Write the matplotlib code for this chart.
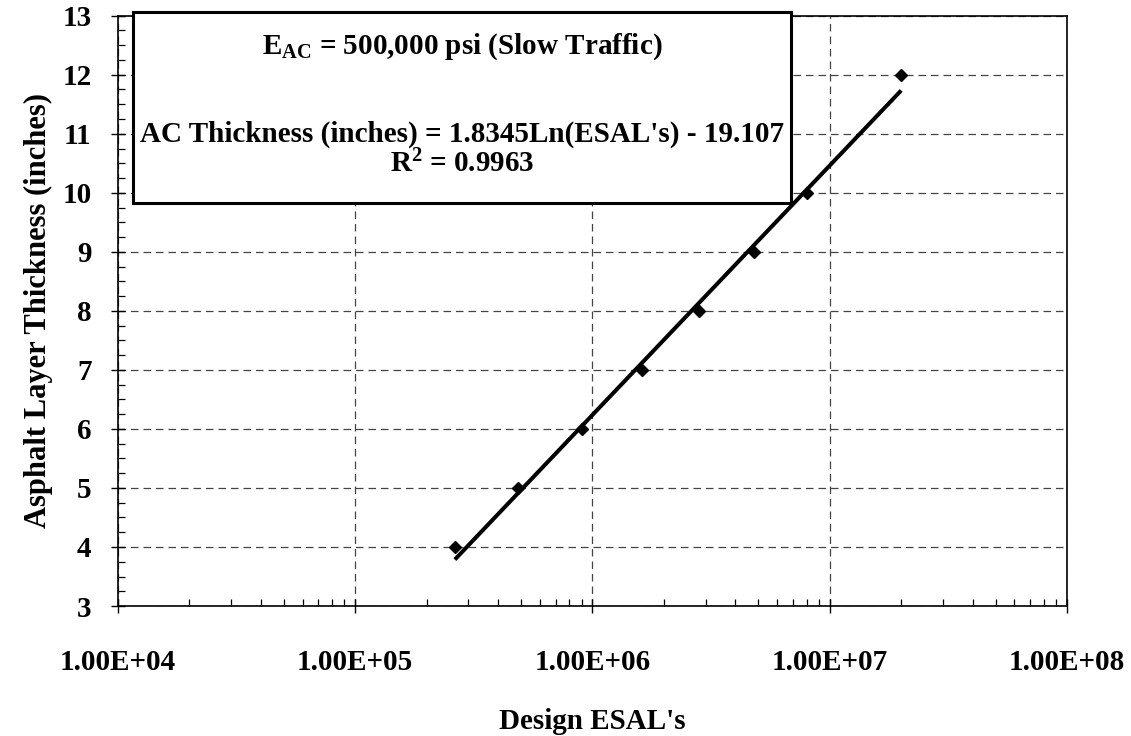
import numpy as np
import matplotlib.pyplot as plt
from matplotlib.ticker import LogLocator, FuncFormatter, MultipleLocator, NullFormatter
from matplotlib.patches import Rectangle

# Data
esals = [2.63e5, 4.87e5, 9.06e5, 1.62e6, 2.82e6, 4.8e6, 8.0e6, 2.0e7]
thickness = [4, 5, 6, 7, 8, 9, 10, 12]

# Logarithmic trend line reported on the chart
coef_a = 1.8345
coef_b = -19.107
r_squared = 0.9963

plt.rcParams['font.family'] = ['Liberation Serif', 'DejaVu Serif']
plt.rcParams['font.weight'] = 'bold'
plt.rcParams['mathtext.default'] = 'regular'

fig = plt.figure(figsize=(11.31, 7.36), dpi=100)
ax = fig.add_axes([0.1043, 0.1766, 0.8391, 0.8021])

ax.set_xscale('log')
ax.set_xlim(1e4, 1e8)
ax.set_ylim(3, 13)

# grid behind everything
ax.grid(True, which='major', linestyle=(0, (6, 4)), color='#444444', linewidth=0.9)
ax.set_axisbelow(True)

# trend line over the data range
fit_x = np.logspace(np.log10(min(esals)), np.log10(max(esals)), 100)
fit_y = coef_a * np.log(fit_x) + coef_b
ax.plot(fit_x, fit_y, color='black', linewidth=2.9, solid_capstyle='butt', zorder=3)

ax.plot(esals, thickness, linestyle='none', marker='D', markersize=6.5,
        color='black', zorder=4)

# ticks
ax.xaxis.set_major_locator(LogLocator(base=10, numticks=10))
ax.xaxis.set_minor_locator(LogLocator(base=10, subs=np.arange(2, 10), numticks=10))
ax.xaxis.set_minor_formatter(NullFormatter())
ax.xaxis.set_major_formatter(FuncFormatter(lambda v, p: f"{v:.2E}"))
ax.yaxis.set_major_locator(MultipleLocator(1))
ax.yaxis.set_minor_locator(MultipleLocator(0.25))

ax.tick_params(which='major', direction='inout', length=10, width=1.0,
               labelsize=21, colors='black')
ax.tick_params(axis='x', which='major', pad=26)
ax.tick_params(axis='y', which='major', pad=14)
ax.tick_params(which='minor', direction='in', length=5, width=0.9)
for lab in ax.get_xticklabels() + ax.get_yticklabels():
    lab.set_fontweight('bold')

for s in ax.spines.values():
    s.set_linewidth(1.2)
    s.set_color('black')

ax.set_xlabel("Design ESAL's", fontsize=21, fontweight='bold', labelpad=23)
ax.set_ylabel("Asphalt Layer Thickness (inches)", fontsize=22, fontweight='bold', labelpad=7)

# equation box (extends slightly above the plot area, as in the original)
box = Rectangle((0.0158, 0.6827), 0.6934, 0.3233, transform=ax.transAxes,
                facecolor='white', edgecolor='black', linewidth=2.2,
                clip_on=False, zorder=5)
ax.add_patch(box)

cx = 0.0158 + 0.6934 / 2
ax.text(cx, 0.9467, "E$_{AC}$ = 500,000 psi (Slow Traffic)", transform=ax.transAxes,
        ha='center', va='center', fontsize=21, fontweight='bold', zorder=6)
ax.text(cx, 0.7990, f"AC Thickness (inches) = {coef_a}Ln(ESAL's) - {abs(coef_b)}",
        transform=ax.transAxes, ha='center', va='center', fontsize=21,
        fontweight='bold', zorder=6)
ax.text(cx, 0.7482, f"R$^2$ = {r_squared}", transform=ax.transAxes,
        ha='center', va='center', fontsize=21, fontweight='bold', zorder=6)

plt.savefig('out.png', dpi=100)
